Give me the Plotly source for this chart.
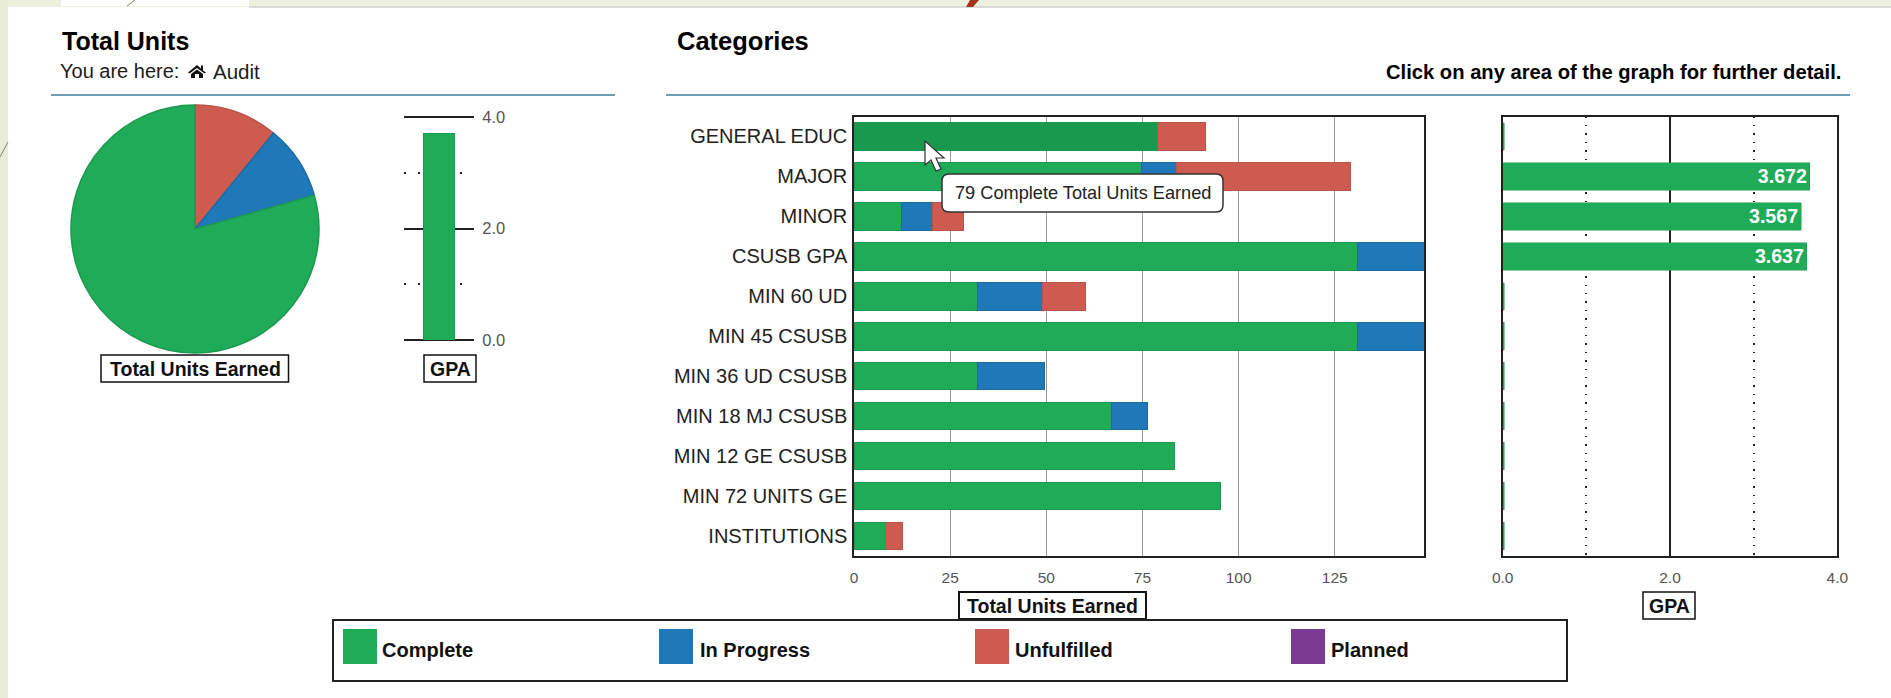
import plotly.graph_objects as go

W, H = 1891, 698
FONT = "Liberation Sans"
DARK = "#1c1c1c"
GREY = "#555555"

categories = ["GENERAL EDUC", "MAJOR", "MINOR", "CSUSB GPA", "MIN 60 UD", "MIN 45 CSUSB",
              "MIN 36 UD CSUSB", "MIN 18 MJ CSUSB", "MIN 12 GE CSUSB", "MIN 72 UNITS GE", "INSTITUTIONS"]
complete = [79, 74.7, 12.3, 130.8, 32, 130.8, 32, 67, 83.3, 95.2, 8.2]
in_progress = [0, 9.2, 8.1, 17.4, 17, 17.4, 17.6, 9.3, 0, 0, 0]
unfulfilled = [12.3, 45.1, 8, 0, 11.3, 0, 0, 0, 0, 0, 4.4]
planned = [0, 0, 0, 0, 0, 0, 0, 0, 0, 0, 0]
gpa = [0.02, 3.672, 3.567, 3.637, 0.02, 0.02, 0.02, 0.02, 0.02, 0.02, 0.02]

series_names = ["Complete", "In Progress", "Unfulfilled", "Planned"]
series_colors = ["#1fab58", "#1f78b8", "#cd5b50", "#7b3b92"]
series_edges = ["#1b9a4f", "#1b6ca6", "#bb5248", "#6f3584"]
hover_green = "#18994e"

pie_labels = ["Unfulfilled", "In Progress", "Complete"]
pie_values = [18, 16, 131]
pie_colors = ["#cd5b50", "#1f78b8", "#1fab58"]
pie_edges = ["#bb5248", "#1b6ca6", "#1b9a4f"]

overall_gpa = [3.7]
tooltip_text = "79 Complete Total Units Earned"


def px(x):
    return x / W


def py(y):
    return 1 - y / H


def dom_x(a, b):
    return [px(a), px(b)]


def dom_y(top, bottom):
    return [py(bottom), py(top)]


fig = go.Figure()

fig.add_trace(go.Pie(labels=pie_labels, values=pie_values, sort=False, direction="clockwise", rotation=0,
                     marker=dict(colors=pie_colors, line=dict(color=pie_edges, width=1.5)),
                     textinfo="none", showlegend=False,
                     domain=dict(x=dom_x(70, 320), y=dom_y(105, 353))))

fig.add_trace(go.Bar(x=["GPA"], y=overall_gpa, xaxis="x3", yaxis="y3", width=0.45,
                     marker=dict(color=series_colors[0], line=dict(color=series_edges[0], width=1)),
                     showlegend=False))

for i, vals in enumerate([complete, in_progress, unfulfilled, planned]):
    colors = [series_colors[i]] * len(vals)
    if i == 0:
        colors[0] = hover_green
    fig.add_trace(go.Bar(y=categories, x=vals, orientation="h", name=series_names[i],
                         xaxis="x", yaxis="y", width=0.69,
                         marker=dict(color=colors,
                                     line=dict(color=series_edges[i], width=[1 if v > 0 else 0 for v in vals])),
                         showlegend=False))

fig.add_trace(go.Bar(y=categories, x=gpa, orientation="h", xaxis="x2", yaxis="y2", width=0.69,
                     marker=dict(color=series_colors[0], line=dict(color=series_edges[0], width=0.5)),
                     text=[f"<b>{v:.3f}</b>" if v >= 1 else "" for v in gpa],
                     textposition="inside", insidetextanchor="end", textangle=0,
                     textfont=dict(family=FONT, size=20, color="white"),
                     showlegend=False))

shapes = []


def rect(x0, y0, x1, y1, fill=None, line=None, lw=1.5, layer="above"):
    shapes.append(dict(type="rect", xref="paper", yref="paper", x0=px(x0), x1=px(x1), y0=py(y0), y1=py(y1),
                       fillcolor=fill or "rgba(0,0,0,0)",
                       line=dict(color=line or "rgba(0,0,0,0)", width=lw if line else 0), layer=layer))


def hline(x0, x1, y, color, lw):
    shapes.append(dict(type="line", xref="paper", yref="paper", x0=px(x0), x1=px(x1), y0=py(y), y1=py(y),
                       line=dict(color=color, width=lw)))


def poly(points, fill, line=None, lw=1):
    d = "M " + " L ".join(f"{px(x):.6f},{py(y):.6f}" for x, y in points) + " Z"
    shapes.append(dict(type="path", xref="paper", yref="paper", path=d, fillcolor=fill,
                       line=dict(color=line or fill, width=lw if line else 0)))


# page surround
rect(0, 0, W, 7, fill="#eef0df", layer="below")
rect(0, 0, 8, H, fill="#e8ecd6", layer="below")
rect(61, 0, 249, 6, fill="#ffffff", layer="below")
hline(249, W, 7, "#cfcfcf", 1.5)
poly([(966, 7), (973, 7), (979, 0), (970, 0)], "#a5331a")
shapes.append(dict(type="line", xref="paper", yref="paper", x0=px(0), y0=py(157), x1=px(8), y1=py(142),
                   line=dict(color="#8a8460", width=1)))
shapes.append(dict(type="line", xref="paper", yref="paper", x0=px(127), y0=py(6), x1=px(135), y1=py(0),
                   line=dict(color="#8a8460", width=1)))

# header rules
hline(51, 615, 95, "#3f7a9c", 1.5)
hline(666, 1850, 95, "#3f7a9c", 1.5)

# axis title boxes
rect(101, 355, 288.5, 382, fill="#ffffff", line="#111111")
rect(424, 355, 476, 382, fill="#ffffff", line="#111111")
rect(959, 592, 1146, 619, fill="#ffffff", line="#111111", lw=2)
rect(1643, 592, 1695, 619, fill="#ffffff", line="#111111")

# legend
rect(333, 620, 1567, 681, fill="#ffffff", line="#222222", lw=2)
swatch_x = [343, 659, 975, 1291]
label_x = [380, 698, 1013, 1329]
for sx, c in zip(swatch_x, series_colors):
    rect(sx, 629, sx + 34, 664, fill=c)

# home icon
poly([(197, 65), (201, 68.5), (201, 65.5), (203, 65.5), (203, 70.5), (206, 72.5), (204.5, 73.5), (197, 68),
      (189.5, 73.5), (188, 72.5)], "#111111")
poly([(197, 69.5), (203, 74), (203, 78), (199, 78), (199, 74), (195, 74), (195, 78), (191, 78), (191, 74)], "#111111")

# tooltip + cursor
x0, x1, y0, y1, r = 942, 1223, 174, 212, 7
d = (f"M {px(x0 + r)},{py(y0)} L {px(x1 - r)},{py(y0)} Q {px(x1)},{py(y0)} {px(x1)},{py(y0 + r)} "
     f"L {px(x1)},{py(y1 - r)} Q {px(x1)},{py(y1)} {px(x1 - r)},{py(y1)} L {px(x0 + r)},{py(y1)} "
     f"Q {px(x0)},{py(y1)} {px(x0)},{py(y1 - r)} L {px(x0)},{py(y0 + r)} Q {px(x0)},{py(y0)} {px(x0 + r)},{py(y0)} Z")
shapes.append(dict(type="path", xref="paper", yref="paper", path=d, fillcolor="#ffffff",
                   line=dict(color="#333333", width=1.5)))
poly([(925, 141), (925, 165), (931, 160), (936, 171), (941, 169), (936, 158), (944, 158)], "#ffffff", "#333333", 1.2)

annotations = []


def note(x, y, text, size, bold=False, anchor="left", color=DARK):
    annotations.append(dict(xref="paper", yref="paper", x=px(x), y=py(y), text=f"<b>{text}</b>" if bold else text,
                            showarrow=False, xanchor=anchor, yanchor="middle",
                            font=dict(family=FONT, size=size, color=color)))


note(60, 41, "Total Units", 25, True, color="#000000")
note(58, 71, "You are here:", 20)
note(210.5, 71, "Audit", 20.5)
note(675, 41, "Categories", 25.5, True, color="#000000")
note(1843, 72, "Click on any area of the graph for further detail.", 20.2, True, "right", "#000000")
note(195, 368.5, "Total Units Earned", 19.5, True, "center", "#111111")
note(450, 368.5, "GPA", 19.5, True, "center", "#111111")
note(1052.5, 605.5, "Total Units Earned", 19.5, True, "center", "#111111")
note(1669, 605.5, "GPA", 19.5, True, "center", "#111111")
note(1082.5, 193, tooltip_text, 18.2, False, "center", "#222222")
for lx, name in zip(label_x, series_names):
    note(lx, 650, name, 20, True, color="#111111")

frame = dict(showline=True, mirror=True, linecolor="#222222", linewidth=1.5, zeroline=False, automargin=False)
tick_font = dict(family=FONT, size=15.5, color=GREY)
minor_dots = dict(dtick=1, showgrid=True, gridcolor="#222222", gridwidth=1.5, griddash="1.5px,6.9px", ticklen=0)

fig.update_layout(
    width=W, height=H, autosize=False, margin=dict(l=0, r=0, t=0, b=0),
    paper_bgcolor="#ffffff", plot_bgcolor="#ffffff", barmode="stack", showlegend=False,
    xaxis=dict(domain=dom_x(854, 1424), range=[0, 148.2], dtick=25, anchor="y", showgrid=True,
               gridcolor="#9a9a9a", gridwidth=1, ticks="outside", ticklen=7, tickcolor="rgba(0,0,0,0)",
               tickfont=tick_font, **frame),
    yaxis=dict(domain=dom_y(116.5, 556), anchor="x", categoryorder="array", categoryarray=categories,
               autorange="reversed", showgrid=False, ticks="outside", ticklen=1, tickcolor="rgba(0,0,0,0)",
               tickfont=dict(family=FONT, size=20, color="#222222"), **frame),
    xaxis2=dict(domain=dom_x(1502.7, 1837.3), range=[0, 4], dtick=2, tickformat=".1f", anchor="y2", showgrid=True,
                gridcolor="#222222", gridwidth=1.5, ticks="outside", ticklen=7, tickcolor="rgba(0,0,0,0)",
                tickfont=tick_font, minor=minor_dots, **frame),
    yaxis2=dict(domain=dom_y(116.5, 556), anchor="x2", categoryorder="array", categoryarray=categories,
                autorange="reversed", showticklabels=False, showgrid=False, ticks="", **frame),
    xaxis3=dict(domain=dom_x(404, 474), anchor="y3", showticklabels=False, ticks="", showgrid=False,
                zeroline=False, showline=False, automargin=False),
    yaxis3=dict(domain=dom_y(115.6, 340), anchor="x3", side="right", range=[0, 4.03], dtick=2, tickformat=".1f",
                showgrid=True, gridcolor="#222222", gridwidth=1.5, zeroline=True, zerolinecolor="#222222",
                zerolinewidth=1.5, showline=False, automargin=False, ticks="outside", ticklen=4,
                tickcolor="rgba(0,0,0,0)", tickfont=dict(family=FONT, size=16.5, color=GREY),
                minor=dict(dtick=1, showgrid=True, gridcolor="#222222", gridwidth=1.5, griddash="1.5px,12.5px", ticklen=0)),
    shapes=shapes, annotations=annotations,
)

fig.write_html("out.html", config=dict(displayModeBar=False),
               post_script="document.body.style.margin='0';document.body.style.overflow='hidden';")
